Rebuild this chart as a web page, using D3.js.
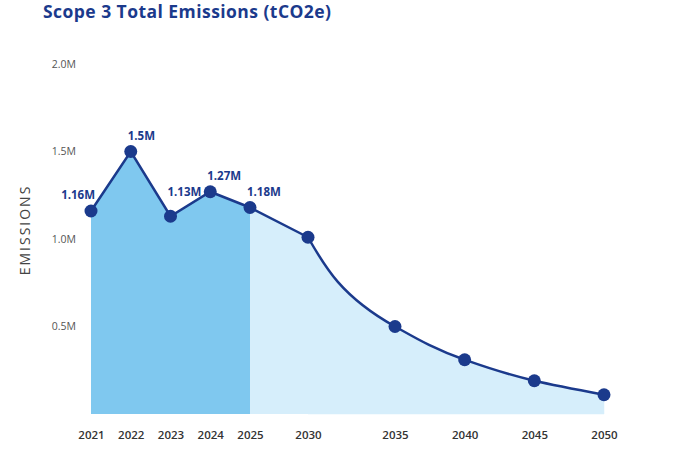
<!DOCTYPE html>
<html>
<head>
<meta charset="utf-8">
<script src="https://cdn.jsdelivr.net/npm/d3@7"></script>
<style>
  body { margin: 0; background: #fff; }
  svg { display: block; font-family: "Open Sans", "Noto Sans", sans-serif; }
</style>
</head>
<body>
<div id="chart"></div>
<script>
// data
var years = [2021, 2022, 2023, 2024, 2025, 2030, 2035, 2040, 2045, 2050];
var emissions = [1160000, 1500000, 1130000, 1270000, 1180000, 1010000, 500000, 310000, 190000, 110000];
var pointLabels = ["1.16M", "1.5M", "1.13M", "1.27M", "1.18M", "", "", "", "", ""];
var yTicks = [500000, 1000000, 1500000, 2000000];
var yTickLabels = ["0.5M", "1.0M", "1.5M", "2.0M"];
var actualEnd = 2025;   // solid shaded region ends here
var curveStart = 2030;  // smooth projection from here on

var W = 696, H = 452;
var navy = "#1b3a8c";

var dataset = years.map((y, i) => ({ year: y, value: emissions[i], label: pointLabels[i] }));

var svg = d3.select("#chart").append("svg")
    .attr("width", W)
    .attr("height", H);

// x axis is not evenly spaced in the original, so use a piecewise linear scale
var x = d3.scaleLinear()
    .domain([2021, 2025, 2030, 2035, 2050])
    .range([91, 250, 308, 395, 604]);
var y = d3.scaleLinear().domain([0, 2000000]).range([414, 64]);

svg.append("text")
    .attr("x", 43).attr("y", 18)
    .style("font-size", "17.5px")
    .style("font-weight", 700)
    .style("letter-spacing", "0.45px")
    .style("fill", navy)
    .text("Scope 3 Total Emissions (tCO2e)");

// the projection curve drops steeply right after 2030, monotoneY gives that shape
var smooth = d3.curveMonotoneY;

var areaLin = d3.area().x(d => x(d.year)).y0(y(0)).y1(d => y(d.value));
var lineCurve = d3.line().x(d => x(d.year)).y(d => y(d.value)).curve(smooth);

var actual = dataset.filter(d => d.year <= actualEnd);
var projLin = dataset.filter(d => d.year >= actualEnd && d.year <= curveStart);
var projCurve = dataset.filter(d => d.year >= curveStart);

svg.append("path").datum(projLin).attr("d", areaLin).attr("fill", "#d6eefb");
// curved area: the curve plus a closing run along the baseline
var last = projCurve[projCurve.length - 1], first = projCurve[0];
svg.append("path").datum(projCurve)
    .attr("d", d => lineCurve(d) + "L" + x(last.year) + "," + y(0) + "L" + x(first.year) + "," + y(0) + "Z")
    .attr("fill", "#d6eefb")
    .attr("stroke", "#d6eefb").attr("stroke-width", 0.5);
svg.append("path").datum(actual).attr("d", areaLin).attr("fill", "#7fc8ef");

// line
var lineLin = d3.line().x(d => x(d.year)).y(d => y(d.value));
svg.append("path").datum(dataset.filter(d => d.year <= curveStart))
    .attr("d", lineLin).attr("fill", "none").attr("stroke", navy).attr("stroke-width", 2.5);
svg.append("path").datum(projCurve)
    .attr("d", lineCurve).attr("fill", "none").attr("stroke", navy).attr("stroke-width", 2.5);

svg.selectAll("circle.pt")
    .data(dataset)
    .enter().append("circle")
    .attr("class", "pt")
    .attr("cx", d => x(d.year))
    .attr("cy", d => y(d.value))
    .attr("r", 6.5)
    .attr("fill", navy);

// value labels
svg.selectAll("text.val")
    .data(dataset.filter(d => d.label))
    .enter().append("text")
    .attr("class", "val")
    .attr("x", (d, i) => x(d.year) + (i == 0 ? 4 : -3))
    .attr("y", (d, i) => y(d.value) - (i == 2 ? 20 : 12))
    .attr("text-anchor", (d, i) => i == 0 ? "end" : "start")
    .style("font-size", "11.5px")
    .style("font-weight", 700)
    .style("fill", navy)
    .text(d => d.label);

// y axis labels
var yAxis = svg.append("g")
    .attr("transform", "translate(76,0)")
    .call(d3.axisLeft(y).tickValues(yTicks).tickFormat((d, i) => yTickLabels[i]).tickSize(0).tickPadding(0));
yAxis.select(".domain").remove();
yAxis.selectAll("text")
    .style("font-family", "'Open Sans', sans-serif")
    .style("font-size", "10.5px")
    .style("fill", "#555");

svg.append("text")
    .attr("transform", "translate(26,230) rotate(-90)")
    .attr("text-anchor", "middle")
    .attr("dominant-baseline", "middle")
    .style("font-size", "14px")
    .style("letter-spacing", "2px")
    .style("fill", "#444")
    .text("EMISSIONS");

// x axis labels
var xAxis = svg.append("g")
    .attr("transform", "translate(0,431)")
    .call(d3.axisBottom(x).tickValues(years).tickFormat(d3.format("d")).tickSize(0).tickPadding(0));
xAxis.select(".domain").remove();
xAxis.selectAll("text")
    .style("font-family", "'Open Sans', sans-serif")
    .style("font-size", "11.5px")
    .style("font-weight", 600)
    .style("fill", "#333");
</script>
</body>
</html>
